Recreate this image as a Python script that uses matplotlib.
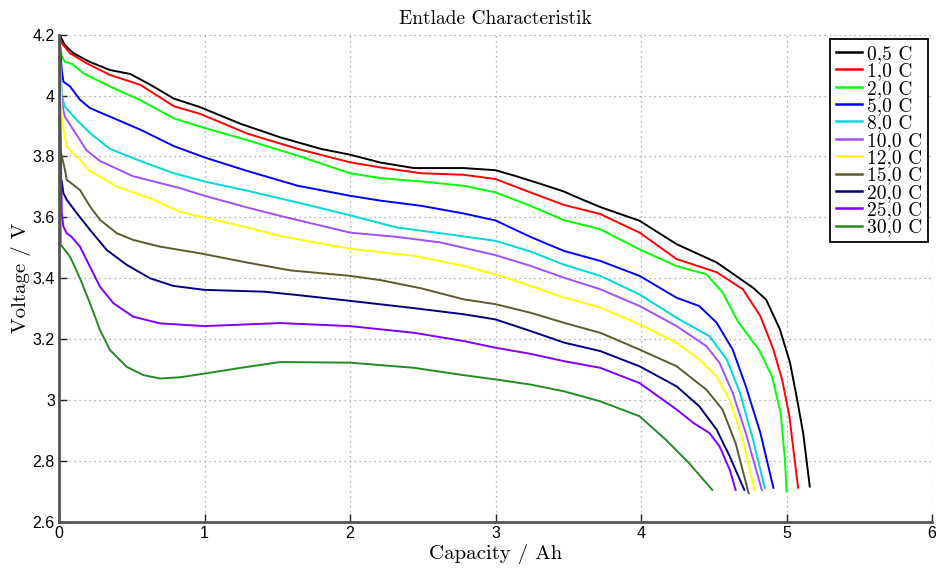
import matplotlib
matplotlib.use("Agg")
import matplotlib.pyplot as plt

# ---------------- data ----------------
labels = ["0,5 C", "1,0 C", "2,0 C", "5,0 C", "8,0 C", "10,0 C",
          "12,0 C", "15,0 C", "20,0 C", "25,0 C", "30,0 C"]
colors = ["#000000", "#FF0000", "#00FF00", "#0000FF", "#00D8D8", "#A050FF",
          "#FFFF00", "#5E5A2E", "#000080", "#8000FF", "#228B22"]

cap_05 = [0, 0.004, 0.04, 0.1, 0.21, 0.35, 0.49, 0.63, 0.79, 0.97, 1.25, 1.52, 1.8, 2.0, 2.21,
          2.44, 2.78, 3.0, 3.13, 3.31, 3.47, 3.59, 3.72, 3.99, 4.245, 4.52, 4.77, 4.86, 4.955,
          5.024, 5.07, 5.115, 5.16]
v_05 = [4.2, 4.2, 4.166, 4.139, 4.111, 4.084, 4.071, 4.035, 3.99, 3.962, 3.907, 3.863, 3.825,
        3.806, 3.78, 3.762, 3.762, 3.755, 3.737, 3.71, 3.685, 3.66, 3.634, 3.589, 3.512, 3.452,
        3.369, 3.33, 3.232, 3.123, 3.01, 2.89, 2.716]

cap_1 = [0, 0.019, 0.076, 0.19, 0.35, 0.56, 0.79, 0.97, 1.29, 1.64, 2.0, 2.21, 2.49, 2.78, 3.0,
         3.24, 3.47, 3.72, 3.99, 4.245, 4.52, 4.7, 4.82, 4.91, 4.97, 5.02, 5.05, 5.08]
v_1 = [4.2, 4.172, 4.139, 4.106, 4.068, 4.035, 3.965, 3.94, 3.876, 3.825, 3.781, 3.764, 3.745,
       3.74, 3.726, 3.682, 3.641, 3.611, 3.55, 3.463, 3.42, 3.364, 3.276, 3.166, 3.067, 2.947,
       2.827, 2.712]

cap_2 = [0, 0.019, 0.04, 0.09, 0.167, 0.35, 0.56, 0.79, 1.0, 1.29, 1.64, 2.0, 2.21, 2.49, 2.78,
         3.0, 3.24, 3.47, 3.72, 3.99, 4.245, 4.45, 4.56, 4.67, 4.81, 4.9, 4.96, 4.99, 5.0]
v_2 = [4.2, 4.128, 4.111, 4.104, 4.073, 4.03, 3.985, 3.925, 3.894, 3.854, 3.803, 3.745, 3.729,
       3.718, 3.704, 3.682, 3.638, 3.591, 3.561, 3.495, 3.44, 3.413, 3.354, 3.255, 3.166, 3.078,
       2.958, 2.80, 2.70]

cap_5 = [0, 0.019, 0.03, 0.076, 0.145, 0.213, 0.35, 0.56, 0.79, 1.0, 1.29, 1.64, 2.0, 2.21, 2.49,
         2.78, 3.0, 3.24, 3.47, 3.72, 3.99, 4.245, 4.40, 4.52, 4.63, 4.72, 4.82, 4.91]
v_5 = [4.2, 4.084, 4.046, 4.03, 3.986, 3.959, 3.931, 3.888, 3.834, 3.797, 3.753, 3.704, 3.671,
       3.655, 3.638, 3.613, 3.59, 3.536, 3.49, 3.457, 3.408, 3.336, 3.309, 3.254, 3.166, 3.046,
       2.893, 2.712]

cap_8 = [0, 0.019, 0.04, 0.122, 0.213, 0.35, 0.56, 0.79, 1.0, 1.29, 1.64, 2.0, 2.32, 2.67, 3.0,
         3.24, 3.47, 3.72, 3.99, 4.245, 4.47, 4.59, 4.68, 4.77, 4.85]
v_8 = [4.2, 4.002, 3.964, 3.92, 3.877, 3.825, 3.785, 3.745, 3.718, 3.688, 3.649, 3.607, 3.567,
       3.545, 3.523, 3.488, 3.445, 3.408, 3.347, 3.27, 3.21, 3.133, 3.024, 2.87, 2.712]

cap_10 = [0, 0.019, 0.04, 0.122, 0.19, 0.282, 0.51, 0.833, 1.0, 1.29, 1.52, 2.0, 2.32, 2.62, 3.0,
          3.24, 3.47, 3.72, 3.99, 4.245, 4.45, 4.54, 4.63, 4.72, 4.83]
v_10 = [4.2, 3.98, 3.931, 3.87, 3.82, 3.785, 3.735, 3.696, 3.671, 3.633, 3.605, 3.55, 3.536,
        3.518, 3.476, 3.441, 3.402, 3.364, 3.309, 3.243, 3.177, 3.122, 3.024, 2.892, 2.705]

cap_12 = [0, 0.019, 0.053, 0.085, 0.144, 0.213, 0.282, 0.397, 0.626, 0.833, 1.0, 1.29, 1.52, 2.0,
          2.44, 2.78, 3.0, 3.24, 3.47, 3.72, 3.99, 4.245, 4.40, 4.52, 4.61, 4.70, 4.78]
v_12 = [4.2, 3.92, 3.833, 3.817, 3.79, 3.751, 3.734, 3.701, 3.663, 3.618, 3.6, 3.567, 3.539,
        3.497, 3.474, 3.441, 3.413, 3.375, 3.337, 3.304, 3.249, 3.188, 3.133, 3.078, 3.0, 2.87,
        2.705]

cap_15 = [0, 0.01, 0.041, 0.053, 0.085, 0.144, 0.213, 0.282, 0.397, 0.51, 0.694, 0.97, 1.29, 1.59,
          2.0, 2.21, 2.49, 2.78, 3.0, 3.24, 3.47, 3.72, 3.99, 4.245, 4.45, 4.56, 4.65, 4.74]
v_15 = [4.2, 3.82, 3.756, 3.723, 3.712, 3.69, 3.636, 3.592, 3.548, 3.526, 3.504, 3.482, 3.452,
        3.426, 3.408, 3.394, 3.367, 3.331, 3.315, 3.287, 3.254, 3.221, 3.166, 3.111, 3.034,
        2.969, 2.859, 2.694]

cap_20 = [0, 0.005, 0.019, 0.03, 0.053, 0.122, 0.213, 0.328, 0.466, 0.626, 0.786, 1.0, 1.41, 1.64,
          2.0, 2.44, 2.78, 3.0, 3.24, 3.47, 3.72, 3.99, 4.245, 4.40, 4.52, 4.61, 4.71]
v_20 = [4.2, 3.73, 3.718, 3.68, 3.658, 3.614, 3.559, 3.493, 3.444, 3.4, 3.375, 3.362, 3.356,
        3.345, 3.326, 3.302, 3.282, 3.265, 3.227, 3.189, 3.161, 3.111, 3.045, 2.98, 2.903, 2.815,
        2.705]

cap_25 = [0, 0.019, 0.03, 0.053, 0.085, 0.144, 0.213, 0.282, 0.374, 0.51, 0.694, 1.0, 1.52, 2.0,
          2.44, 2.78, 3.0, 3.24, 3.47, 3.72, 3.99, 4.245, 4.36, 4.47, 4.54, 4.61, 4.65]
v_25 = [4.2, 3.614, 3.57, 3.548, 3.537, 3.504, 3.438, 3.372, 3.318, 3.274, 3.252, 3.243, 3.253,
        3.243, 3.221, 3.194, 3.172, 3.152, 3.128, 3.106, 3.056, 2.969, 2.925, 2.892, 2.848, 2.771,
        2.705]

cap_30 = [0, 0.012, 0.076, 0.144, 0.213, 0.282, 0.351, 0.466, 0.58, 0.694, 0.833, 1.0, 1.25, 1.52,
          2.0, 2.44, 2.78, 3.0, 3.24, 3.47, 3.72, 3.99, 4.17, 4.33, 4.49]
v_30 = [4.2, 3.51, 3.471, 3.4, 3.318, 3.23, 3.164, 3.109, 3.082, 3.071, 3.075, 3.087, 3.106,
        3.125, 3.123, 3.106, 3.082, 3.068, 3.051, 3.029, 2.996, 2.947, 2.87, 2.793, 2.705]

capacities = [cap_05, cap_1, cap_2, cap_5, cap_8, cap_10, cap_12, cap_15, cap_20, cap_25, cap_30]
voltages = [v_05, v_1, v_2, v_5, v_8, v_10, v_12, v_15, v_20, v_25, v_30]

x_ticks = [0, 1, 2, 3, 4, 5, 6]
x_ticklabels = ["0", "1", "2", "3", "4", "5", "6"]
y_ticks = [2.6, 2.8, 3.0, 3.2, 3.4, 3.6, 3.8, 4.0, 4.2]
y_ticklabels = ["2.6", "2.8", "3", "3.2", "3.4", "3.6", "3.8", "4", "4.2"]

title = "Entlade Characteristik"
xlabel = "Capacity / Ah"
ylabel = "Voltage / V"

# ---------------- drawing ----------------
serif = ["cmr10", "DejaVu Serif"]
sans = ["Liberation Sans", "DejaVu Sans"]

fig = plt.figure(figsize=(9.37, 5.68), dpi=100)
ax = fig.add_axes([0.06297, 0.08116, 0.93170, 0.85775])

for cap, v, lab, col in zip(capacities, voltages, labels, colors):
    ax.plot(cap, v, color=col, lw=1.4, label=lab, solid_joinstyle="round")

ax.set_xlim(0, 6)
ax.set_ylim(2.6, 4.2)
ax.set_xticks(x_ticks)
ax.set_xticklabels(x_ticklabels, fontfamily=sans, fontsize=11.5)
ax.set_yticks(y_ticks)
ax.set_yticklabels(y_ticklabels, fontfamily=sans, fontsize=11.5)
ax.tick_params(direction="in", length=6, width=1.0, pad=3, color="#222222")

ax.grid(True, linestyle=(0, (1, 3)), color="#9a9a9a", lw=0.9)
ax.set_axisbelow(True)

for s in ("top", "right"):
    ax.spines[s].set_visible(False)
for s in ("left", "bottom"):
    ax.spines[s].set_linewidth(2.0)
    ax.spines[s].set_color("#555555")

ax.set_title(title, fontfamily=serif, fontsize=14, pad=8)
ax.set_xlabel(xlabel, fontfamily=serif, fontsize=15, labelpad=2)
ax.set_ylabel(ylabel, fontfamily=serif, fontsize=15, labelpad=1)

leg = ax.legend(loc="upper right", bbox_to_anchor=(0.9954, 0.9908), borderaxespad=0,
                prop={"family": serif, "size": 14}, frameon=True, fancybox=False,
                framealpha=1, edgecolor="black", handlelength=1.35, handletextpad=0.25,
                labelspacing=-0.03, borderpad=0.3)
leg.get_frame().set_linewidth(1.3)
for line in leg.get_lines():
    line.set_linewidth(1.8)

fig.savefig("out.png", dpi=100)
